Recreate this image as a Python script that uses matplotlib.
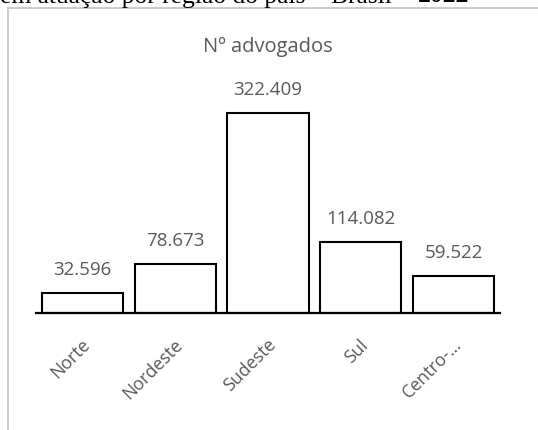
import matplotlib
matplotlib.use("Agg")
from matplotlib import pyplot as plt
from matplotlib.patches import Rectangle
import matplotlib.transforms as mtransforms

regioes = ['Norte', 'Nordeste', 'Sudeste', 'Sul', 'Centro-…']
advogados = [32596, 78673, 322409, 114082, 59522]
rotulos = ['32.596', '78.673', '322.409', '114.082', '59.522']
titulo_grafico = 'Nº advogados'
titulo_texto = 'em atuação por região do país – Brasil – '
titulo_ano = '2022'

W, H = 538, 430
fig = plt.figure(figsize=(W / 100, H / 100), dpi=100)

# area da figura (borda cinza do grafico do Excel)
fig.patches.append(Rectangle((8 / W, -0.1), 1.2, 1 - 8 / H + 0.1,
                             transform=fig.transFigure, fill=False,
                             edgecolor='#c8c8c8', linewidth=1.3))

# titulo cortado no topo
t1 = fig.text(0.0, 1 - 2.5 / H, titulo_texto, family='Liberation Serif',
              fontsize=18.4, color='black', va='baseline', ha='left')
fig.canvas.draw()
bb = t1.get_window_extent()
fig.text(bb.x1 / W, 1 - 2.5 / H, titulo_ano, family='Liberation Serif',
         fontsize=18.4, fontweight='bold', color='black', va='baseline', ha='left')

ax = fig.add_axes([36 / W, 1 - 313 / H, 464 / W, 200 / H])
x = list(range(len(regioes)))
ax.bar(x, advogados, width=0.873, color='white', edgecolor='black',
       linewidth=1.5, clip_on=False, zorder=2)
ax.set_xlim(-0.5, len(regioes) - 0.5)
ax.set_ylim(0, max(advogados))

for i, v in enumerate(advogados):
    ax.annotate(rotulos[i], (i, v), xytext=(0, 10), textcoords='offset points',
                ha='center', va='bottom', fontsize=13.5, color='#595959',
                family='Open Sans')

for s in ['top', 'right', 'left']:
    ax.spines[s].set_visible(False)
ax.spines['bottom'].set_linewidth(1.6)
ax.spines['bottom'].set_zorder(3)
ax.set_yticks([])
ax.set_xticks(x)
ax.set_xticklabels(regioes, rotation=45, ha='right', va='center',
                   rotation_mode='anchor', fontsize=12.8, color='#595959',
                   family='Open Sans')
ax.tick_params(axis='x', length=0, pad=21)
off = mtransforms.ScaledTranslation(5 / 100, 0, fig.dpi_scale_trans)
for lab in ax.get_xticklabels():
    lab.set_transform(lab.get_transform() + off)

fig.text(268 / W, 1 - 47 / H, titulo_grafico, ha='center', va='center',
         fontsize=14.5, color='#595959', family='Open Sans')

fig.savefig('out.png', dpi=100)
